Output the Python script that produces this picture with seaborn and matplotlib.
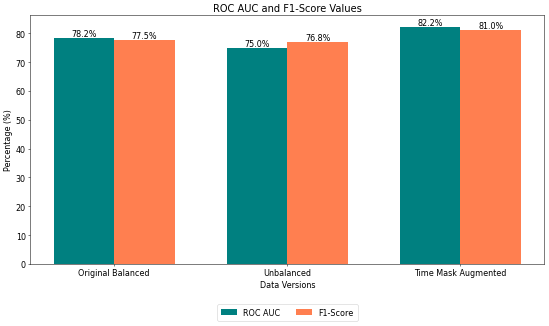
import pandas as pd
import matplotlib
matplotlib.use("Agg")
import matplotlib.pyplot as plt
import seaborn as sns

# values
versions = ["Original Balanced", "Unbalanced", "Time Mask Augmented"]
roc_auc = [78.2, 75.0, 82.2]
f1_score = [77.5, 76.8, 81.0]
metrics = ["ROC AUC", "F1-Score"]
colors = ["#008080", "#FF7F50"]

df = pd.DataFrame({
    "Data Versions": versions * 2,
    "Metric": [metrics[0]] * 3 + [metrics[1]] * 3,
    "Value": roc_auc + f1_score,
})

fig, ax = plt.subplots(figsize=(12, 7.135), dpi=45.83)
sns.barplot(data=df, x="Data Versions", y="Value", hue="Metric",
            palette=colors, width=0.7, saturation=1, ax=ax)

for container in ax.containers:
    ax.bar_label(container, fmt="%.1f%%", fontsize=12.5)

ax.set_xlim(-0.485, 2.485)
ax.set_ylim(0, max(roc_auc + f1_score) * 1.05)
ax.set_title("ROC AUC and F1-Score Values", fontsize=15.5)
ax.set_xlabel("Data Versions", fontsize=12.5)
ax.set_ylabel("Percentage (%)", fontsize=12.5)
ax.tick_params(labelsize=12.5)
ax.legend(loc="upper center", bbox_to_anchor=(0.5, -0.145), ncol=2,
          fontsize=12.5, title=None, columnspacing=2.0, borderpad=0.5)

plt.subplots_adjust(left=0.055, right=0.99, top=0.951, bottom=0.19)
plt.savefig("out.png")
